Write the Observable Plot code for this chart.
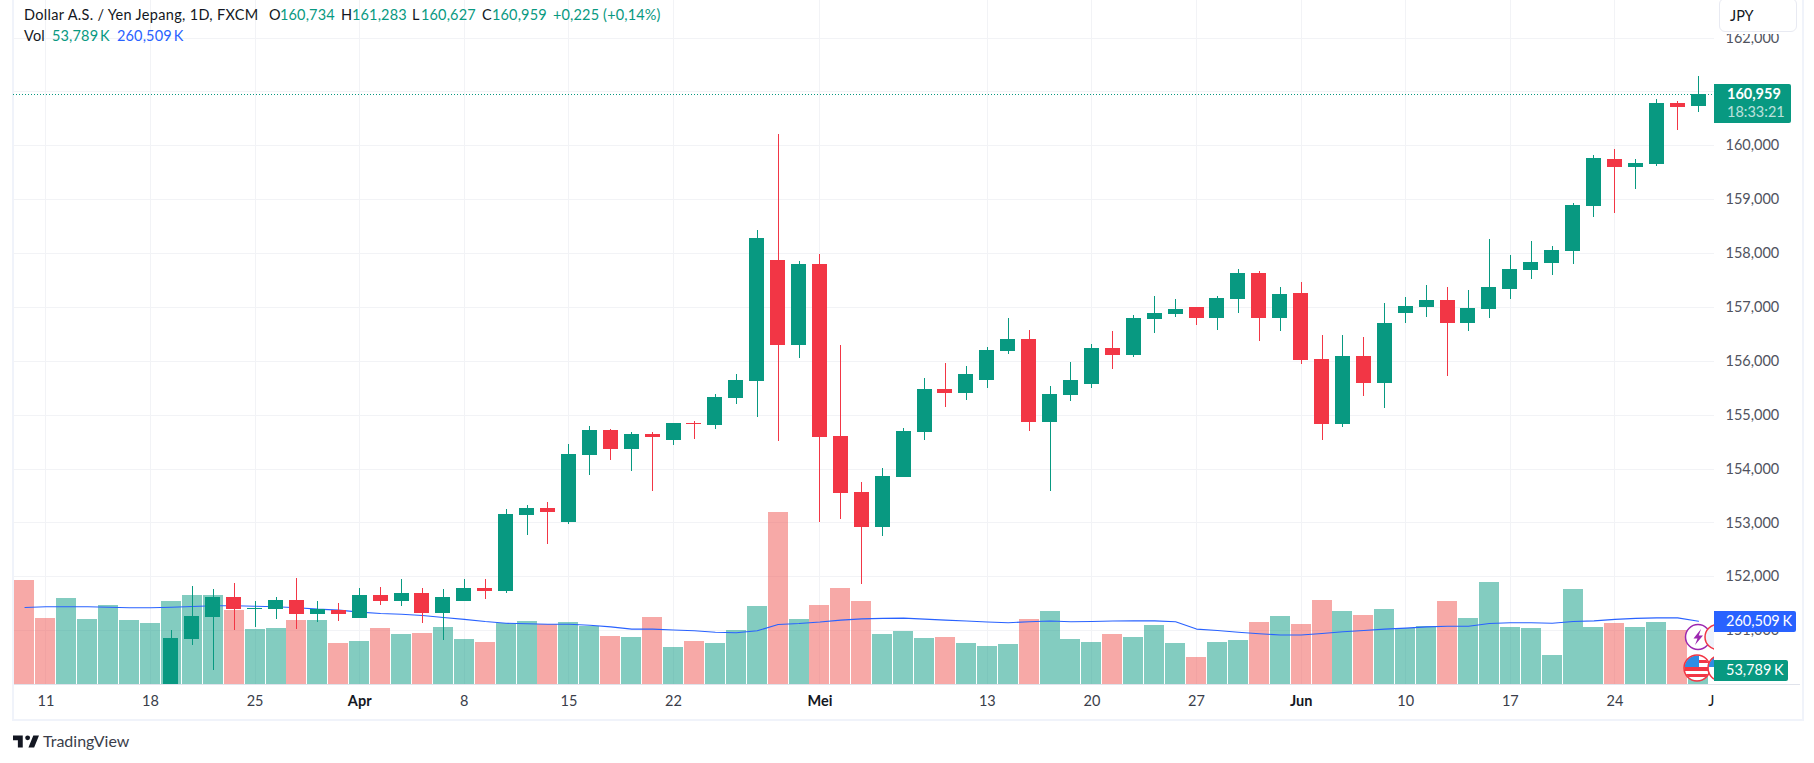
<!DOCTYPE html>
<html lang="id">
<head>
<meta charset="utf-8">
<title>Dollar A.S. / Yen Jepang</title>
<script src="https://cdn.jsdelivr.net/npm/d3@7"></script>
<script src="https://cdn.jsdelivr.net/npm/@observablehq/plot@0.6"></script>
<style>
  html, body { margin: 0; padding: 0; background: #fff; overflow: hidden; }
  body { width: 1814px; height: 763px; position: relative; font-family: Lato, "Open Sans", sans-serif; color: #131722; }
  .abs { position: absolute; white-space: nowrap; line-height: 1; }
  #frame { left: 12px; top: -2px; width: 1788px; height: 719px; border: 2px solid #f0f3fa; }
  #base { left: 14px; top: 684px; width: 1786px; height: 1px; background: #e0e3eb; }
  #chart { left: 0; top: 0; }
  #chart svg { display: block; background: transparent; }
  .legend { font-size: 14.5px; transform: translateY(-50%); letter-spacing: .15px; }
  .up { color: #089981; }
  .ma { color: #2962ff; }
  .tag { color: #fff; font-size: 14.5px; box-sizing: border-box; border-radius: 0 2px 2px 0; }
  #jpy { left: 1719px; top: -2px; width: 78px; height: 34px; box-sizing: border-box; background: #fff; border: 1.5px solid #e8eaf2; border-radius: 6px; box-shadow: 0 2px 0 #fff; font-size: 14.5px; padding: 10px 0 0 10px; }
  #icons { left: 1670px; top: 600px; width: 44px; height: 90px; overflow: hidden; }
</style>
</head>
<body>
<div id="frame" class="abs"></div>
<div id="base" class="abs"></div>
<div id="chart" class="abs"></div>

<div class="abs legend" style="left:24px;top:15px;letter-spacing:.32px">Dollar A.S. / Yen Jepang, 1D, FXCM</div>
<div class="abs legend" style="left:269px;top:15px">O</div><div class="abs legend up" style="left:280px;top:15px">160,734</div>
<div class="abs legend" style="left:341px;top:15px">H</div><div class="abs legend up" style="left:352px;top:15px">161,283</div>
<div class="abs legend" style="left:412px;top:15px">L</div><div class="abs legend up" style="left:421px;top:15px">160,627</div>
<div class="abs legend" style="left:482px;top:15px">C</div><div class="abs legend up" style="left:492px;top:15px">160,959</div>
<div class="abs legend up" style="left:553px;top:15px">+0,225 (+0,14%)</div>
<div class="abs legend" style="left:24px;top:36px">Vol</div>
<div class="abs legend up" style="left:52px;top:36px;word-spacing:-2px">53,789 K</div>
<div class="abs legend ma" style="left:117px;top:36px;word-spacing:-2px">260,509 K</div>

<div id="jpy" class="abs">JPY</div>

<div id="icons" class="abs">
  <svg width="70" height="90" viewBox="0 0 70 90">
    <defs>
      <clipPath id="c1"><circle cx="27" cy="68" r="12.5"/></clipPath>
      <clipPath id="c2"><circle cx="51" cy="68" r="12.5"/></clipPath>
    </defs>
    <circle cx="28" cy="37" r="12.5" fill="#fff" stroke="#9c27b0" stroke-width="1.5"/>
    <path d="M31 29 L23.5 38.5 H27.5 L25 45 L33 35.5 H28.8 Z" fill="#9c27b0"/>
    <circle cx="47.5" cy="37" r="12.5" fill="#eef2fa" stroke="#f23645" stroke-width="1.5"/>
    <g clip-path="url(#c1)">
      <rect x="13" y="54" width="28" height="28" fill="#fff"/>
      <rect x="13" y="67" width="28" height="4" fill="#f23645"/>
      <rect x="13" y="74" width="28" height="3" fill="#f23645"/>
      <rect x="13" y="55" width="16" height="12" fill="#2e8de5"/>
      <rect x="29" y="60" width="12" height="3" fill="#f23645"/>
    </g>
    <circle cx="27" cy="68" r="13" fill="none" stroke="#f23645" stroke-width="1.5"/>
    <g clip-path="url(#c2)">
      <rect x="36" y="54" width="28" height="28" fill="#fff"/>
      <rect x="36" y="55" width="16" height="12" fill="#2e8de5"/>
    </g>
    <circle cx="51" cy="68" r="13" fill="none" stroke="#f23645" stroke-width="1.5"/>
  </svg>
</div>

<div class="abs tag" style="left:1714px;top:84px;width:77px;height:39px;background:#089981"></div>
<div class="abs tag" style="left:1727px;top:87px;font-weight:700">160,959</div>
<div class="abs tag" style="left:1727px;top:105px;opacity:.72">18:33:21</div>
<div class="abs tag" style="left:1714px;top:611px;width:82px;height:21px;background:#2962ff;padding:3px 0 0 12px;word-spacing:-1px">260,509 K</div>
<div class="abs tag" style="left:1714px;top:660px;width:74px;height:21px;background:#089981;padding:3px 0 0 12px;word-spacing:-1px">53,789 K</div>

<svg class="abs" style="left:13px;top:735px" width="26" height="13" viewBox="2 6 32 15"><path fill="#131722" d="M14 6H2v6h6v9h6V6zm14 15h-7l6-15h7l-6 15z"/><circle fill="#131722" cx="20" cy="9" r="3"/></svg>
<div class="abs" style="left:43px;top:733px;font-size:16px;font-weight:400;color:#3a3e4a">TradingView</div>

<script>
// Bar index: 0 is Monday 11 March, one step per trading day; last bar is Friday 28 June.
const firstVolumeIndex = -1;

// Daily candles from bar 6 (19 March), the earlier ones lie under the visible range.
const firstCandleIndex = 6;
const opens = [149.10,150.84,151.25,151.62,151.39,151.39,151.56,151.30,151.37,151.23,151.65,151.54,151.69,151.32,151.54,151.78,151.73,153.14,153.27,153.01,154.25,154.72,154.36,154.64,154.53,154.85,154.81,155.31,155.63,157.87,156.29,157.80,154.61,153.57,152.92,153.84,154.68,155.48,155.40,155.64,156.18,156.40,154.86,155.36,155.57,156.24,156.11,156.78,156.87,157.00,156.79,157.15,157.63,156.79,157.26,156.03,154.83,156.09,155.59,156.89,157.00,157.13,156.70,156.96,157.33,157.69,157.82,158.04,158.87,159.75,159.59,159.65,160.79,160.734];
const highs = [151.00,151.82,151.76,151.88,151.54,151.62,151.97,151.54,151.50,151.78,151.80,151.95,151.78,151.76,151.95,151.95,153.25,153.32,153.38,154.46,154.79,154.73,154.68,154.68,154.85,154.88,155.38,155.76,158.43,160.21,157.85,157.98,156.29,153.75,154.01,154.75,155.68,155.96,155.90,156.26,156.79,156.57,155.53,155.98,156.31,156.55,156.85,157.20,157.15,157.00,157.20,157.70,157.67,157.37,157.46,156.48,156.48,156.44,157.07,157.18,157.41,157.37,157.31,158.26,157.96,158.22,158.13,158.93,159.82,159.93,159.75,160.86,160.82,161.283];
const lows = [149.06,150.73,150.26,151.00,151.06,151.21,151.02,151.15,151.17,151.23,151.47,151.45,151.13,150.82,151.54,151.58,151.69,152.77,152.60,152.97,153.88,154.16,153.96,153.58,154.44,154.55,154.73,155.20,154.96,154.51,156.05,153.01,153.06,151.86,152.75,153.84,154.53,155.15,155.27,155.50,156.13,154.70,153.59,155.25,155.50,155.85,156.07,156.52,156.81,156.66,156.57,156.89,156.37,156.55,155.94,154.53,154.77,155.35,155.12,156.70,156.81,155.72,156.55,156.80,157.15,157.52,157.59,157.80,158.67,158.74,159.19,159.62,160.28,160.627];
const closes = [150.85,151.26,151.62,151.39,151.42,151.56,151.30,151.39,151.30,151.65,151.54,151.69,151.32,151.62,151.78,151.73,153.16,153.27,153.19,154.27,154.72,154.36,154.64,154.59,154.85,154.83,155.33,155.64,158.28,156.29,157.80,154.59,153.55,152.92,153.86,154.70,155.48,155.40,155.75,156.20,156.40,154.86,155.38,155.64,156.24,156.11,156.79,156.89,156.96,156.79,157.17,157.63,156.79,157.24,156.01,154.83,156.09,155.59,156.70,157.02,157.13,156.70,156.98,157.37,157.70,157.83,158.06,158.89,159.76,159.59,159.67,160.79,160.71,160.959];

// Volume in thousands, from bar -1 (8 March) to bar 79.
const volumes = [429,273,355,269,327,265,252,343,368,368,306,228,232,265,265,170,178,232,207,211,236,187,174,252,261,248,257,240,199,195,277,154,178,170,224,322,709,269,327,397,343,207,220,191,195,170,158,166,269,302,187,174,207,195,244,170,113,174,182,257,281,248,347,302,285,310,232,240,343,273,421,236,232,121,392,236,252,236,257,224,53.789];
// Direction of the volume bars that come before the first visible candle.
const earlyVolumeUp = [false,false,true,true,true,true,true];
// Volume moving average, thousands, same bars.
const volumeMA = [317,320,320,320,318,316,316,318,321,324,324,322,320,316,310,306,298,292,289,284,276,268,259,252,250,248,248,244,237,228,228,224,221,215,213,221,247,251,257,265,270,272,273,269,265,261,257,254,258,261,258,259,261,262,262,258,228,222,215,209,204,204,210,217,222,228,232,237,240,240,251,254,254,252,259,262,268,272,274,274,260.509];

// Axis labels.
const dayTicks = [0,5,10,20,25,30,45,50,55,65,70,75];
const dayLabels = ["11","18","25","8","15","22","13","20","27","10","17","24"];
const monthTicks = [15,37,60];
const monthLabels = ["Apr","Mei","Jun"];
const priceTicks = [151,152,153,154,155,156,157,158,159,160,161,162];
const lastClose = 160.959;

const GREEN = "#089981", RED = "#f23645", VOLRED = "#ef5350", BLUE = "#2962ff";
const GRID = "#f2f3f6";
const FONT = "Lato, 'Open Sans', sans-serif";

const candles = opens.map((o, k) => ({
  i: firstCandleIndex + k, o, h: highs[k], l: lows[k], c: closes[k], up: closes[k] >= o
}));

// The volume pane shares the chart's vertical axis: thousands are rescaled onto price units.
const priceFloor = 150.001, priceCeil = 162.697;
const kPerPixel = 4.115, pixelsPerUnit = 53.875;
const volumeToPrice = v => priceFloor + v / kPerPixel / pixelsPerUnit;

const volumeBars = volumes.map((v, k) => {
  const i = firstVolumeIndex + k;
  const candle = candles.find(d => d.i === i);
  return {i, v, up: candle ? candle.up : earlyVolumeUp[k]};
});
const maPoints = volumeMA.map((v, k) => ({i: firstVolumeIndex + k, v}));

const label = (ticks, labels) => i => labels[ticks.indexOf(i)];
const allVerticals = [...dayTicks, ...monthTicks];

const chart = Plot.plot({
  width: 1814, height: 763,
  marginLeft: 13, marginRight: 100, marginTop: 0, marginBottom: 79,
  style: {background: "transparent", fontFamily: FONT},
  x: {type: "linear", domain: [-1.549, 79.76], axis: null},
  y: {domain: [priceFloor, priceCeil], axis: null},
  marks: [
    Plot.ruleY(priceTicks, {stroke: GRID, strokeWidth: 1, shapeRendering: "crispEdges"}),
    Plot.ruleX(allVerticals, {stroke: GRID, strokeWidth: 1, shapeRendering: "crispEdges"}),

    Plot.rect(volumeBars, {
      x1: d => d.i - 0.478, x2: d => d.i + 0.478,
      y1: priceFloor, y2: d => volumeToPrice(d.v),
      fill: d => d.up ? GREEN : VOLRED, fillOpacity: 0.5,
      clip: true, shapeRendering: "crispEdges"
    }),
    Plot.line(maPoints, {
      x: "i", y: d => volumeToPrice(d.v),
      stroke: BLUE, strokeWidth: 1.1, clip: true
    }),

    Plot.ruleY([lastClose], {stroke: GREEN, strokeWidth: 1, strokeDasharray: "1 2", shapeRendering: "crispEdges"}),

    Plot.ruleX(candles, {
      x: "i", y1: "l", y2: "h",
      stroke: d => d.up ? GREEN : RED, strokeWidth: 1,
      clip: true, shapeRendering: "crispEdges"
    }),
    Plot.rect(candles, {
      x1: d => d.i - 0.3585, x2: d => d.i + 0.3585,
      y1: "o", y2: "c",
      fill: d => d.up ? GREEN : RED,
      clip: true, shapeRendering: "crispEdges"
    }),

    Plot.axisY({
      anchor: "right", ticks: priceTicks, tickSize: 0, tickPadding: 11,
      tickFormat: p => d3.format(".3f")(p).replace(".", ","),
      fontSize: 14.5, fill: "#50535e", label: null
    }),
    Plot.axisX({
      anchor: "bottom", ticks: dayTicks, tickFormat: label(dayTicks, dayLabels),
      tickSize: 0, tickPadding: 11, fontSize: 14.5, fill: "#3a3e4a", label: null
    }),
    Plot.axisX({
      anchor: "bottom", ticks: monthTicks, tickFormat: label(monthTicks, monthLabels),
      tickSize: 0, tickPadding: 11, fontSize: 14.5, fontWeight: 700, fill: "#131722", label: null
    }),
    Plot.text(["J"], {
      frameAnchor: "bottom-right", text: d => d, lineAnchor: "top", textAnchor: "end",
      dy: 11, fontSize: 14.5, fill: "#131722"
    })
  ]
});
document.getElementById("chart").appendChild(chart);
</script>
</body>
</html>
